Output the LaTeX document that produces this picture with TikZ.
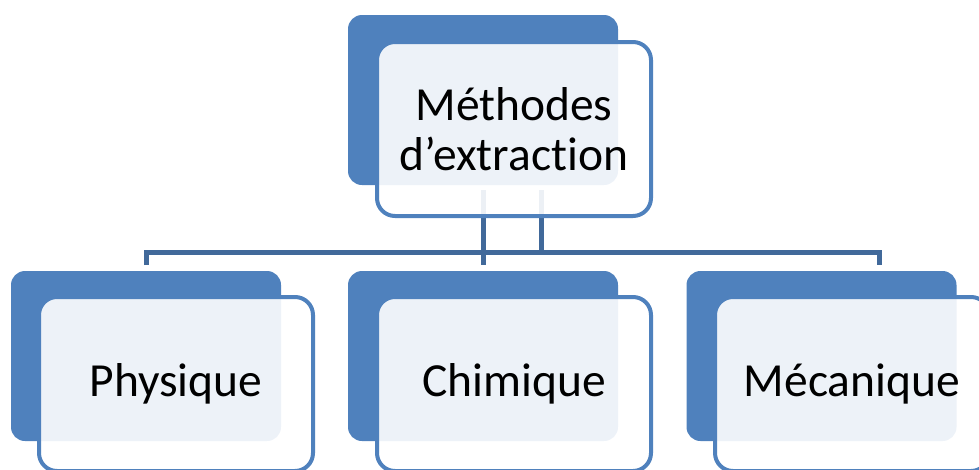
\documentclass[tikz,border=0pt]{standalone}
\usepackage{fontspec}
\setmainfont{Carlito}[Ligatures={NoCommon}]
\definecolor{accent}{HTML}{4F81BD}
\definecolor{linec}{HTML}{41699A}
\begin{document}
\begin{tikzpicture}[x=1pt,y=-1pt,
  backbox/.style={fill=accent, draw=none, rounded corners=14pt,
    minimum width=270pt, minimum height=170pt, inner sep=0pt},
  framebox/.style={draw=accent, line width=4pt, fill=white, fill opacity=0.9,
    text opacity=1, rounded corners=18pt, minimum width=274pt,
    minimum height=174pt, inner sep=0pt, align=center,
    font=\fontsize{47.5}{50}\selectfont},
  conn/.style={draw=linec, line width=5pt}]
\clip (0,0) rectangle (979,469);
% back boxes
\node[backbox] (tback) at (483,100) {};
\node[backbox] (pback) at (146,356) {};
\node[backbox] (cback) at (483,356) {};
\node[backbox] (mback) at (821.5,356) {};
% connector points
\coordinate (t1) at (483,190);
\coordinate (t2) at (541.5,190);
\coordinate (h1) at (541.5,252);
\coordinate (hl) at (146,252);
\coordinate (hr) at (879,252);
\coordinate (dp) at (146,265);
\coordinate (dc) at (483,265);
\coordinate (dm) at (879,265);
% connectors
\draw[conn] (t1) -- (dc);
\draw[conn] (t2) -- (h1);
\draw[conn] (dp) -- (hl) -- (hr) -- (dm);
% frames
\node[framebox] (top) at (514,129) {Méthodes\\d’extraction};
\node[framebox] (phys) at (176,384) {Physique};
\node[framebox] (chim) at (514,384) {Chimique};
\node[framebox] (meca) at (852,384) {Mécanique};
\end{tikzpicture}
\end{document}
